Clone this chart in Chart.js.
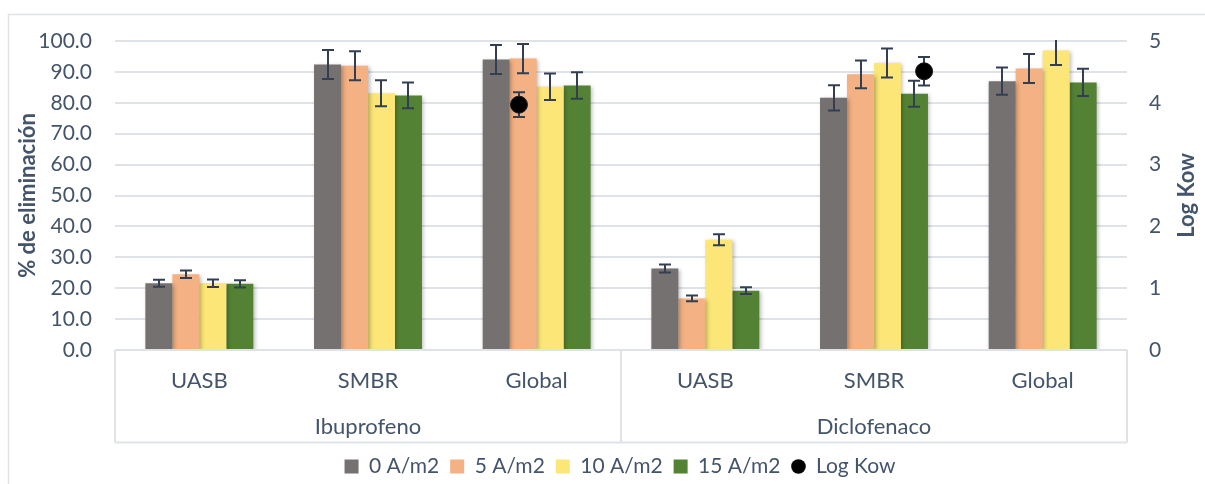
<!DOCTYPE html>
<html>
<head>
<meta charset="utf-8">
<script src="https://cdn.jsdelivr.net/npm/chart.js@4.4.1/dist/chart.umd.min.js"></script>
<style>
  html, body { margin: 0; padding: 0; background: #ffffff; }
  #wrap { width: 1205px; height: 484px; position: relative; }
</style>
</head>
<body>
<div id="wrap"><canvas id="chart" width="1205" height="484"></canvas></div>
<script>
// Categories (first level) and compound groups (second level)
const categories = ['UASB', 'SMBR', 'Global', 'UASB', 'SMBR', 'Global'];
const groups = ['Ibuprofeno', 'Diclofenaco'];
const groupSpans = [[0, 2], [3, 5]];

// Removal (%) per current density, with standard deviations
const seriesNames = ['0 A/m2', '5 A/m2', '10 A/m2', '15 A/m2'];
const removal0 = [21.6, 92.4, 94.0, 26.4, 81.6, 87.0];
const removal5 = [24.5, 92.0, 94.3, 16.7, 89.2, 91.1];
const removal10 = [21.6, 83.1, 85.2, 35.7, 92.9, 96.9];
const removal15 = [21.4, 82.4, 85.6, 19.2, 82.9, 86.6];
const sd0 = [1.1, 4.7, 4.7, 1.3, 4.1, 4.4];
const sd5 = [1.2, 4.7, 4.7, 0.9, 4.5, 4.7];
const sd10 = [1.2, 4.2, 4.3, 1.8, 4.7, 4.7];
const sd15 = [1.2, 4.2, 4.3, 1.1, 4.2, 4.4];

// Log Kow of each compound (secondary axis), placed along the category axis
const logKowName = 'Log Kow';
const logKowX = [1.895, 4.297];
const logKowY = [3.97, 4.51];
const logKowSd = [0.2, 0.23];

// Tick labels
const pctTicks = ['0.0', '10.0', '20.0', '30.0', '40.0', '50.0', '60.0', '70.0', '80.0', '90.0', '100.0'];
const kowTicks = ['0', '1', '2', '3', '4', '5'];
const leftTitle = '% de eliminación';
const rightTitle = 'Log Kow';

const FONT = "Lato, 'Open Sans', sans-serif";
const INK = '#44546A';
const RULE = '#dfe3e8';
const colors = ['#767171', '#F4B183', '#FBE677', '#548235'];

// small round marker used for the Log Kow legend entry
const dotIcon = document.createElement('canvas');
dotIcon.width = 15; dotIcon.height = 15;
(function () {
  const c = dotIcon.getContext('2d');
  c.fillStyle = '#000';
  c.beginPath(); c.arc(7.5, 7.5, 7.3, 0, Math.PI * 2); c.fill();
})();

const barValues = [removal0, removal5, removal10, removal15];
const barErrors = [sd0, sd5, sd10, sd15];

const datasets = barValues.map((vals, k) => ({
  type: 'bar',
  label: seriesNames[k],
  data: vals,
  errors: barErrors[k],
  backgroundColor: colors[k],
  borderWidth: 0,
  xAxisID: 'x',
  yAxisID: 'y',
  categoryPercentage: 0.64,
  barPercentage: 1.0
}));
datasets.push({
  type: 'scatter',
  label: logKowName,
  parsing: false,
  data: logKowX.map((x, i) => ({ x: x, y: logKowY[i] })),
  errors: logKowSd,
  xAxisID: 'x',
  yAxisID: 'y2',
  backgroundColor: '#000000',
  borderColor: '#1a1a1a',
  borderWidth: 1,
  pointRadius: 8.5,
  pointHoverRadius: 8.5,
  order: -1
});

function drawErrors(chart, index) {
  const ds = chart.data.datasets[index];
  if (!ds.errors) return;
  const meta = chart.getDatasetMeta(index);
  const yScale = chart.scales[meta.yAxisID];
  const area = chart.chartArea;
  const ctx = chart.ctx;
  ctx.save();
  ctx.beginPath();
  ctx.rect(area.left, area.top - 1, area.right - area.left, area.bottom - area.top + 1);
  ctx.clip();
  ctx.strokeStyle = '#333F50';
  ctx.lineWidth = 2;
  meta.data.forEach((el, j) => {
    const raw = ds.data[j];
    const v = typeof raw === 'object' ? raw.y : raw;
    const e = ds.errors[j];
    const x = Math.round(el.x);
    const yt = yScale.getPixelForValue(v + e);
    const yb = yScale.getPixelForValue(v - e);
    ctx.beginPath();
    ctx.moveTo(x, yt); ctx.lineTo(x, yb);
    ctx.moveTo(x - 6, yt); ctx.lineTo(x + 6, yt);
    ctx.moveTo(x - 6, yb); ctx.lineTo(x + 6, yb);
    ctx.stroke();
  });
  ctx.restore();
}

const decor = {
  id: 'decor',
  beforeDraw(chart) {
    const ctx = chart.ctx;
    ctx.save();
    ctx.strokeStyle = RULE;
    ctx.lineWidth = 1.5;
    ctx.strokeRect(8.5, 14.5, 1300, 600);
    ctx.restore();
  },
  afterLayout(chart) {
    const lg = chart.legend;
    if (!lg) return;
    const dx = 620 - (lg.left + lg.right) / 2;
    lg.left += dx; lg.right += dx;
    const pad = lg.options.labels.padding;
    const fs = lg.options.labels.font.size;
    const top = 466.5 - pad - fs / 2;
    const h = lg.height;
    lg.top = top; lg.bottom = top + h;
  },
  beforeDatasetDraw(chart, args) {
    const ds = chart.data.datasets[args.index];
    if (ds.type === 'bar') {
      const ctx = chart.ctx;
      ctx.save();
      ctx.shadowColor = 'rgba(0,0,0,0.28)';
      ctx.shadowBlur = 4;
      ctx.shadowOffsetX = 1.5;
      ctx.shadowOffsetY = 1.5;
    } else {
      drawErrors(chart, args.index);
    }
  },
  afterDatasetDraw(chart, args) {
    const ds = chart.data.datasets[args.index];
    if (ds.type === 'bar') {
      chart.ctx.restore();
      drawErrors(chart, args.index);
    }
  },
  afterDraw(chart) {
    const ctx = chart.ctx;
    const area = chart.chartArea;
    const xs = chart.scales.x;
    const boxBottom = 442.5;
    ctx.save();
    ctx.strokeStyle = RULE;
    ctx.lineWidth = 2;
    // category table frame
    ctx.beginPath();
    ctx.moveTo(area.left, area.bottom); ctx.lineTo(area.right, area.bottom);
    ctx.moveTo(area.left, area.bottom); ctx.lineTo(area.left, boxBottom);
    ctx.moveTo(area.right, area.bottom); ctx.lineTo(area.right, boxBottom);
    ctx.moveTo(area.left, boxBottom); ctx.lineTo(area.right, boxBottom);
    for (let g = 0; g < groupSpans.length - 1; g++) {
      const a = xs.getPixelForValue(groupSpans[g][1]);
      const b = xs.getPixelForValue(groupSpans[g + 1][0]);
      const sx = Math.round((a + b) / 2);
      ctx.moveTo(sx, area.bottom); ctx.lineTo(sx, boxBottom);
    }
    ctx.stroke();
    // compound labels
    ctx.fillStyle = INK;
    ctx.font = '22px ' + FONT;
    ctx.textAlign = 'center';
    ctx.textBaseline = 'middle';
    groups.forEach((name, g) => {
      const cx = (xs.getPixelForValue(groupSpans[g][0]) + xs.getPixelForValue(groupSpans[g][1])) / 2;
      ctx.fillText(name, cx, 427);
    });
    // secondary axis title
    ctx.font = 'bold 22px ' + FONT;
    ctx.translate(1187, (area.top + area.bottom) / 2);
    ctx.rotate(-Math.PI / 2);
    ctx.fillText(rightTitle, 0, 0);
    ctx.restore();
  }
};

new Chart(document.getElementById('chart'), {
  type: 'bar',
  data: { labels: categories, datasets: datasets },
  plugins: [decor],
  options: {
    responsive: false,
    animation: false,
    devicePixelRatio: 1,
    layout: { padding: { left: 10, right: 0, top: 41, bottom: 0 } },
    plugins: {
      tooltip: { enabled: false },
      legend: {
        position: 'bottom',
        labels: {
          usePointStyle: true,
          boxWidth: 14,
          boxHeight: 14,
          padding: 11,
          color: INK,
          font: { family: FONT, size: 21 },
          generateLabels(chart) {
            const items = Chart.defaults.plugins.legend.labels.generateLabels(chart);
            items.forEach(it => {
              const ds = chart.data.datasets[it.datasetIndex];
              it.pointStyle = ds.type === 'scatter' ? dotIcon : 'rect';
              it.lineWidth = 0;
              it.strokeStyle = 'rgba(0,0,0,0)';
            });
            return items.sort((a, b) => a.datasetIndex - b.datasetIndex);
          }
        }
      }
    },
    scales: {
      x: {
        type: 'category',
        position: 'bottom',
        offset: true,
        grid: { display: false, drawTicks: false },
        border: { display: false },
        ticks: {
          color: INK,
          font: { family: FONT, size: 22 },
          padding: 18,
          maxRotation: 0,
          autoSkip: false
        },
        afterFit(s) {
          const lg = s.chart.legend;
          s.height = 484 - 350 - (lg ? lg.height : 0);
        }
      },
      y: {
        position: 'left',
        min: 0,
        max: 100,
        grid: { color: RULE, lineWidth: 2, drawTicks: false },
        border: { display: false },
        ticks: {
          stepSize: 10,
          color: INK,
          font: { family: FONT, size: 21 },
          padding: 23,
          callback: (v, i) => pctTicks[i]
        },
        title: {
          display: true,
          text: leftTitle,
          color: INK,
          font: { family: FONT, size: 22, weight: 'bold' },
          padding: { top: 5, bottom: 0 }
        },
        afterFit(s) { s.width = 105; }
      },
      y2: {
        position: 'right',
        min: 0,
        max: 5,
        grid: { display: false, drawTicks: false },
        border: { display: false },
        ticks: {
          stepSize: 1,
          color: INK,
          font: { family: FONT, size: 21 },
          padding: 22,
          callback: (v, i) => kowTicks[i]
        },
        afterFit(s) { s.width = 78; }
      }
    }
  }
});
</script>
</body>
</html>
